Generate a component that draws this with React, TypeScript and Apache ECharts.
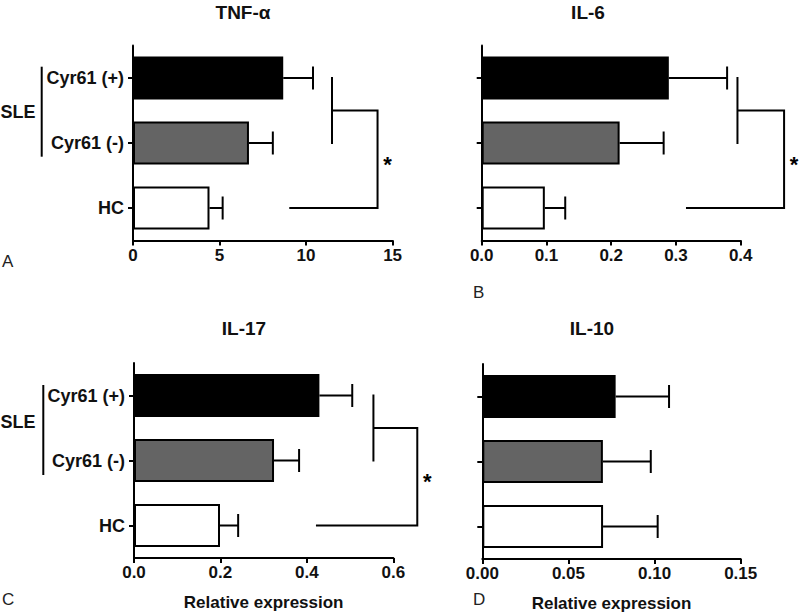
import React, { useEffect, useRef } from "react";
import * as echarts from "echarts";

// ---- data ----
const CATEGORIES = ["Cyr61 (+)", "Cyr61 (-)", "HC"];
const BAR_COLORS = ["#000000", "#646464", "#ffffff"];
const TITLES = ["TNF-α", "IL-6", "IL-17", "IL-10"];
const PANEL_LETTERS = ["A", "B", "C", "D"];
const GROUP_LABEL = "SLE";
const AXIS_NAME = "Relative expression";

const TNF_MEAN = [8.68, 6.7, 4.42];
const TNF_UPPER = [10.4, 8.08, 5.18];
const IL6_MEAN = [0.289, 0.213, 0.0975];
const IL6_UPPER = [0.379, 0.281, 0.129];
const IL17_MEAN = [0.429, 0.324, 0.199];
const IL17_UPPER = [0.505, 0.382, 0.241];
const IL10_MEAN = [0.0774, 0.07, 0.0701];
const IL10_UPPER = [0.1084, 0.0978, 0.1018];

// significance brackets: [pair line x, outer x, HC line start x]
const TNF_BRACKET = [11.5, 14.13, 9.03];
const IL6_BRACKET = [0.395, 0.467, 0.3155];
const IL17_BRACKET = [0.554, 0.6555, 0.421];

// axis ticks: [max, interval, decimals]
const TNF_TICKS = [15, 5, 0];
const IL6_TICKS = [0.4, 0.1, 1];
const IL17_TICKS = [0.6, 0.2, 1];
const IL10_TICKS = [0.15, 0.05, 2];

const FONT = "'Liberation Sans', Arial, Helvetica, sans-serif";

const PANELS = [
  { mean: TNF_MEAN, upper: TNF_UPPER, bracket: TNF_BRACKET, ticks: TNF_TICKS, grid: { left: 133, top: 45.5, width: 259.6, height: 195 }, labels: true, name: false },
  { mean: IL6_MEAN, upper: IL6_UPPER, bracket: IL6_BRACKET, ticks: IL6_TICKS, grid: { left: 481.7, top: 45.5, width: 259, height: 195 }, labels: false, name: false },
  { mean: IL17_MEAN, upper: IL17_UPPER, bracket: IL17_BRACKET, ticks: IL17_TICKS, grid: { left: 134, top: 363, width: 259.3, height: 195 }, labels: true, name: true },
  { mean: IL10_MEAN, upper: IL10_UPPER, bracket: null, ticks: IL10_TICKS, grid: { left: 482.3, top: 364, width: 258.4, height: 195 }, labels: false, name: true },
];

const TITLE_POS = [[243, 12], [588, 12], [244, 328], [592, 328]];
const LETTER_POS = [[2, 261], [473, 292], [2, 599], [473, 599]];

export default function App() {
  const ref = useRef<HTMLDivElement>(null);
  useEffect(() => {
    if (!ref.current) return;
    const chart = echarts.init(ref.current, undefined, { renderer: "svg" });
    const black = "#000";
    const grids: any[] = [];
    const xAxes: any[] = [];
    const yAxes: any[] = [];
    const series: any[] = [];
    PANELS.forEach((p, k) => {
      grids.push({ ...p.grid, containLabel: false });
      const [max, interval, dec] = p.ticks as number[];
      xAxes.push({
        type: "value",
        gridIndex: k,
        min: 0,
        max,
        interval,
        splitLine: { show: false },
        axisLine: { show: true, lineStyle: { color: black, width: 2 } },
        axisTick: { show: true, length: 5, lineStyle: { color: black, width: 2 } },
        axisLabel: {
          margin: 6,
          color: "#111",
          fontFamily: FONT,
          fontWeight: "bold",
          fontSize: 17,
          formatter: (v: number) => v.toFixed(dec),
        },
        name: p.name ? AXIS_NAME : "",
        nameLocation: "middle",
        nameGap: 36,
        nameTextStyle: { color: "#111", fontFamily: FONT, fontWeight: "bold", fontSize: 17 },
      });
      yAxes.push({
        type: "category",
        gridIndex: k,
        inverse: true,
        data: CATEGORIES,
        axisLine: { show: true, lineStyle: { color: black, width: 2 } },
        axisTick: { show: true, alignWithLabel: true, length: 5, lineStyle: { color: black, width: 2 } },
        axisLabel: {
          show: p.labels,
          margin: 9,
          color: "#111",
          fontFamily: FONT,
          fontWeight: "bold",
          fontSize: 18,
        },
      });
      series.push({
        type: "bar",
        xAxisIndex: k,
        yAxisIndex: k,
        barWidth: 43,
        data: p.mean.map((m, i) => ({
          value: m,
          itemStyle: { color: BAR_COLORS[i], borderColor: black, borderWidth: 2 },
        })),
      });
      series.push({
        type: "custom",
        xAxisIndex: k,
        yAxisIndex: k,
        z: 5,
        encode: { x: [0, 2], y: 1 },
        data: p.mean.map((m, i) => [p.upper[i], i, m]),
        renderItem: (_params: any, api: any) => {
          const cat = api.value(1);
          const p0 = api.coord([api.value(2), cat]);
          const p1 = api.coord([api.value(0), cat]);
          return {
            type: "group",
            children: [
              { type: "line", shape: { x1: p0[0], y1: p0[1], x2: p1[0], y2: p1[1] }, style: { stroke: black, lineWidth: 2 } },
              { type: "line", shape: { x1: p1[0], y1: p1[1] - 11.5, x2: p1[0], y2: p1[1] + 11.5 }, style: { stroke: black, lineWidth: 2 } },
            ],
          };
        },
      });
      if (p.bracket) {
        series.push({
          type: "custom",
          xAxisIndex: k,
          yAxisIndex: k,
          z: 5,
          encode: { x: [0, 2, 3], y: 1 },
          data: [[p.bracket[0], 0, p.bracket[1], p.bracket[2]]],
          renderItem: (_params: any, api: any) => {
            const top = api.coord([api.value(0), 0]);
            const mid = api.coord([api.value(0), 1]);
            const hc = api.coord([api.value(2), 2]);
            const xStart = api.coord([api.value(3), 2])[0];
            const yMid = (top[1] + mid[1]) / 2;
            return {
              type: "group",
              children: [
                { type: "line", shape: { x1: top[0], y1: top[1] - 1, x2: top[0], y2: mid[1] + 1 }, style: { stroke: black, lineWidth: 2 } },
                {
                  type: "polyline",
                  shape: { points: [[top[0], yMid], [hc[0], yMid], [hc[0], hc[1]], [xStart, hc[1]]] },
                  style: { stroke: black, fill: "none", lineWidth: 2 },
                },
                {
                  type: "text",
                  x: hc[0] + 10,
                  y: (yMid + hc[1]) / 2 + 5,
                  style: { text: "*", fill: black, font: `bold 22px ${FONT}`, align: "center", verticalAlign: "middle" },
                },
              ],
            };
          },
        });
      }
    });

    const graphic: any[] = [];
    TITLES.forEach((t, k) => {
      graphic.push({
        type: "text",
        x: TITLE_POS[k][0],
        y: TITLE_POS[k][1],
        style: { text: t, fill: "#111", font: `bold 19px ${FONT}`, align: "center", verticalAlign: "middle" },
      });
    });
    PANEL_LETTERS.forEach((t, k) => {
      graphic.push({
        type: "text",
        x: LETTER_POS[k][0],
        y: LETTER_POS[k][1],
        style: { text: t, fill: "#222", font: `17px ${FONT}`, align: "left", verticalAlign: "middle" },
      });
    });
    // SLE group brackets for panels A and C
    [[41.7, 66.7, 156.7, 111.7], [43.3, 385, 475, 421.7]].forEach(([x, y1, y2, yc]) => {
      graphic.push({ type: "line", shape: { x1: x, y1, x2: x, y2 }, style: { stroke: black, lineWidth: 2 } });
      graphic.push({
        type: "text",
        x: 35.5,
        y: yc,
        style: { text: GROUP_LABEL, fill: "#111", font: `bold 18px ${FONT}`, align: "right", verticalAlign: "middle" },
      });
    });

    chart.setOption({
      animation: false,
      backgroundColor: "#fff",
      grid: grids,
      xAxis: xAxes,
      yAxis: yAxes,
      series,
      graphic,
    });
    return () => chart.dispose();
  }, []);
  return <div ref={ref} style={{ position: "fixed", left: 0, top: 0, width: 800, height: 613 }} />;
}
